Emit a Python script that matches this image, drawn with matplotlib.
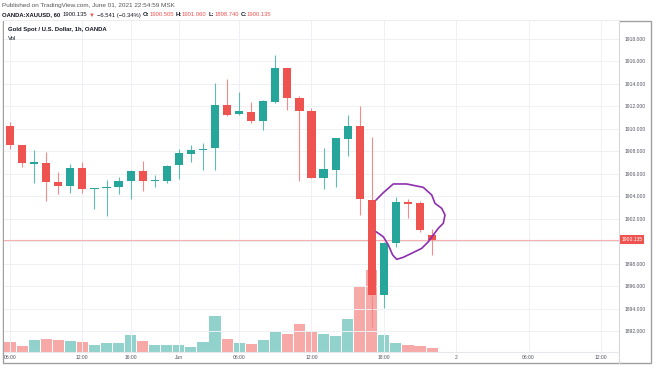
import matplotlib.pyplot as plt
import matplotlib.transforms as mtransforms
from matplotlib.patches import Rectangle
from matplotlib.lines import Line2D

plt.rcParams['font.family'] = ['Liberation Sans', 'DejaVu Sans']

## Data (1h bars, XAUUSD)
opens = [1910.28, 1908.56, 1906.90, 1906.98, 1905.24, 1904.91, 1906.54, 1904.62, 1904.70,
         1904.79, 1905.38, 1906.25, 1905.33, 1905.36, 1906.78, 1907.76, 1908.12, 1908.27,
         1912.12, 1911.30, 1911.53, 1910.72, 1912.42, 1915.39, 1912.77, 1911.62, 1905.65,
         1906.33, 1909.07, 1910.25, 1903.66, 1895.20, 1899.86, 1903.45, 1903.37, 1900.505]
closes = [1908.56, 1906.93, 1907.00, 1905.29, 1904.91, 1906.54, 1904.62, 1904.70, 1904.80,
          1905.38, 1906.25, 1905.36, 1905.40, 1906.72, 1907.82, 1908.12, 1908.23, 1912.12,
          1911.23, 1911.59, 1910.72, 1912.50, 1915.39, 1912.72, 1911.59, 1905.65, 1906.40,
          1909.16, 1910.25, 1903.73, 1895.20, 1899.86, 1903.46, 1903.30, 1900.99, 1900.135]
highs = [1910.64, 1908.60, 1908.12, 1907.91, 1906.18, 1906.84, 1907.07, 1904.75, 1905.44,
         1905.70, 1906.33, 1907.14, 1905.90, 1906.75, 1908.18, 1908.53, 1908.71, 1914.06,
         1914.41, 1913.25, 1912.42, 1912.57, 1916.58, 1915.40, 1912.90, 1911.83, 1908.27,
         1909.20, 1911.23, 1912.03, 1909.25, 1899.90, 1903.96, 1903.75, 1903.60, 1901.06]
lows = [1908.18, 1906.58, 1905.20, 1903.60, 1904.17, 1904.26, 1904.26, 1902.83, 1902.24,
        1904.20, 1903.73, 1904.47, 1904.80, 1905.20, 1905.51, 1907.07, 1906.33, 1906.33,
        1911.14, 1911.23, 1910.55, 1909.90, 1912.27, 1911.68, 1905.38, 1905.60, 1904.62,
        1904.80, 1907.58, 1902.33, 1892.38, 1894.02, 1899.50, 1902.03, 1900.84, 1898.74]
volumes = [1040, 570, 1240, 1340, 1170, 1100, 1000, 740, 870, 940, 1700, 1100, 740, 730,
           700, 500, 1000, 3630, 1330, 900, 800, 1230, 2030, 1830, 2800, 2100, 1830, 1600,
           3330, 6500, 8200, 1670, 900, 670, 570, 430]

tick_bars = [0, 6, 10, 14, 19, 25, 31, 37, 43, 49]
tick_labels = ['06:00', '12:00', '16:00', 'Jun', '06:00', '12:00', '18:00', '2', '06:00', '12:00']
price_ticks = list(range(1892, 1919, 2))
last_price = 1900.135

# hand-drawn purple loop (bar index, price)
loop_x = [30.35, 30.95, 31.78, 32.89, 34.27, 34.97, 35.24, 35.80, 36.07, 35.93, 35.51,
          35.10, 34.69, 34.14, 33.31, 32.61, 32.06, 31.73, 31.37, 30.95, 30.35]
loop_y = [1903.66, 1904.31, 1905.09, 1905.09, 1904.79, 1904.11, 1903.37, 1902.92, 1902.33,
          1901.59, 1901.14, 1900.55, 1899.95, 1899.36, 1898.92, 1898.56, 1898.38, 1898.77,
          1899.66, 1900.40, 1900.84]

GREEN = '#26a69a'
RED = '#ef5350'
DARK = '#131722'
GREY = '#50535e'

W, H = 654, 366
fig = plt.figure(figsize=(W / 100, H / 100), dpi=100)

def fx(px):
    return px / W

def fy(py):
    return 1 - py / H

left, right, top, bottom = 4, 619, 21, 352
pos = [fx(left), fy(bottom), fx(right) - fx(left), fy(top) - fy(bottom)]

## Volume underneath
vol_ax = fig.add_axes(pos, zorder=1)
ax = fig.add_axes(pos, zorder=2, sharex=vol_ax)
ax.patch.set_visible(False)

x = list(range(len(opens)))
up = [c >= o for o, c in zip(opens, closes)]
colors = [GREEN if u else RED for u in up]
wick_colors = ['#5fbcb3' if u else '#f28b89' for u in up]
vol_colors = ['#92d2cc' if u else '#f7a9a7' for u in up]

vol_ax.bar(x, volumes, width=0.92, color=vol_colors, linewidth=0)
vol_ax.set_ylim(0, 33100)
vol_ax.tick_params(left=False, labelleft=False, bottom=False, labelbottom=False)
for s in vol_ax.spines.values():
    s.set_visible(False)

## Candles
ax.vlines(x, lows, highs, colors=wick_colors, lw=0.8, zorder=3)
body_bottom = [min(o, c) for o, c in zip(opens, closes)]
body_height = [max(abs(c - o), 0.12) for o, c in zip(opens, closes)]
ax.bar(x, body_height, bottom=body_bottom, width=0.68, color=colors, linewidth=0, zorder=4)

ax.axhline(last_price, color='#f7b0ae', lw=0.8, zorder=2)
ax.plot(loop_x, loop_y, color='#8e2fb0', lw=1.2, zorder=5, solid_capstyle='round')

ax.set_xlim(-0.5, 50.5)
ax.set_ylim(1890.13, 1919.60)
ax.set_xticks(tick_bars, tick_labels)
# the 1900 label sits under the last-price tag
ax.set_yticks(price_ticks, ['' if v == 1900 else f'{v:.3f}' for v in price_ticks])
ax.yaxis.tick_right()
ax.tick_params(axis='both', length=0, labelsize=3.6, labelcolor=GREY)
ax.tick_params(axis='y', pad=4)
ax.tick_params(axis='x', pad=2)
ax.grid(color='#eef0f5', lw=0.7)
ax.set_axisbelow(True)
for side in ['top', 'left']:
    ax.spines[side].set_visible(False)
ax.spines['right'].set_color('#d6d8de')
ax.spines['right'].set_linewidth(0.8)
ax.spines['bottom'].set_color('#e6e8ee')
ax.spines['bottom'].set_linewidth(0.8)

# price label on the scale
blend = mtransforms.blended_transform_factory(ax.transAxes, ax.transData)
ax.text(1.004, last_price, f'{last_price:.3f}', transform=blend, ha='left', va='center',
        fontsize=3.6, color='white', zorder=10,
        bbox=dict(boxstyle='square,pad=0.35', fc=RED, ec='none'))

# frame and separators
fig.add_artist(Rectangle((fx(3), fy(363)), fx(651) - fx(3), fy(21) - fy(363),
                         fill=False, ec='#a0a0a0', lw=1.0))
fig.add_artist(Line2D([fx(right), fx(right)], [fy(363), fy(bottom)], color='#d6d8de', lw=0.8))

## Texts
fig.text(fx(8), fy(29.5), 'Gold Spot / U.S. Dollar, 1h, OANDA', fontsize=4.3,
         fontweight='bold', color=DARK, va='center')
fig.text(fx(8), fy(38.7), 'Vol', fontsize=4.3, color=DARK, va='center')
fig.text(fx(2), fy(5.7), 'Published on TradingView.com, June 01, 2021 22:54:59 MSK',
         fontsize=4.6, color='#555555', va='center')

pieces = [('OANDA:XAUUSD, 60', DARK, 'bold', 2), ('1900.135', DARK, 'normal', 2),
          ('\u25bc', RED, 'normal', 2), ('\u22126.541 (\u22120.34%)', DARK, 'normal', 2),
          ('O:', DARK, 'bold', 0), ('1900.505', RED, 'normal', 2),
          ('H:', DARK, 'bold', 0), ('1901.060', RED, 'normal', 2),
          ('L:', DARK, 'bold', 0), ('1898.740', RED, 'normal', 2),
          ('C:', DARK, 'bold', 0), ('1900.135', RED, 'normal', 0)]
renderer = fig.canvas.get_renderer()
cur = 2
for txt, col, wt, gap in pieces:
    t = fig.text(fx(cur), fy(15), txt, fontsize=4.2, color=col, fontweight=wt, va='center')
    bb = t.get_window_extent(renderer)
    cur += bb.width + gap

fig.savefig('out.png', dpi=100)
